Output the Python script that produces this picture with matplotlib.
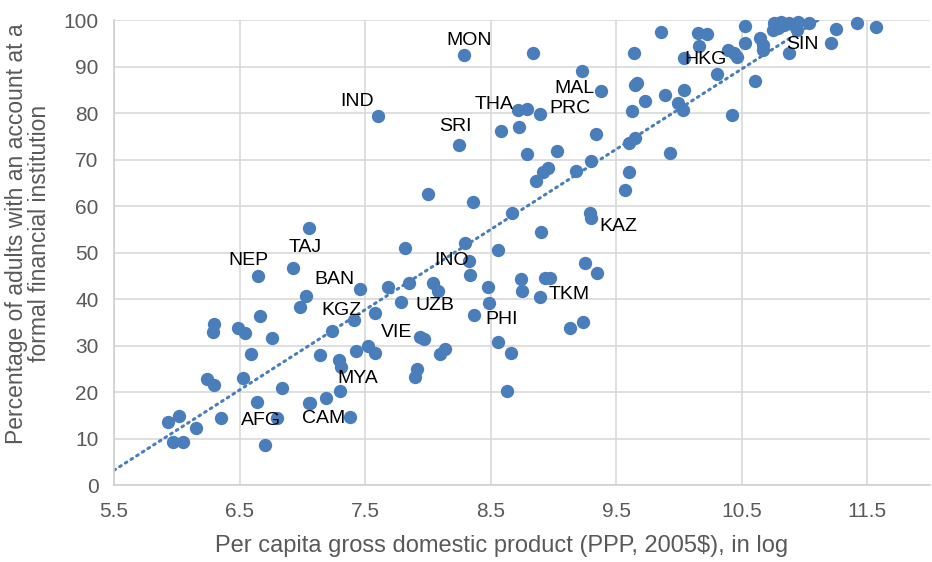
import numpy as np
import matplotlib.pyplot as plt

plt.rcParams['font.family'] = ['Liberation Sans', 'DejaVu Sans']

# per capita GDP (log) and share of adults with an account (%)
gdp_log = [
    5.93, 5.97, 6.02, 6.05, 6.15, 6.24, 6.30, 6.29, 6.30, 6.35,
    6.49, 6.53, 6.54, 6.59, 6.64, 6.65, 6.66, 6.70, 6.76, 6.80,
    6.84, 6.93, 6.98, 7.03, 7.05, 7.06, 7.05, 7.14, 7.24, 7.29,
    7.31, 7.19, 7.30, 7.38, 7.41, 7.43, 7.46, 7.52, 7.58, 7.58,
    7.60, 7.68, 7.79, 7.82, 7.85, 7.90, 7.91, 7.94, 7.97, 8.00,
    8.04, 8.08, 8.10, 8.14, 8.25, 8.29, 8.30, 8.33, 8.34, 8.36,
    8.37, 8.48, 8.49, 8.56, 8.56, 8.58, 8.63, 8.66, 8.67, 8.72,
    8.73, 8.74, 8.75, 8.79, 8.79, 8.84, 8.86, 8.89, 8.89, 8.90,
    8.92, 8.93, 8.96, 8.97, 9.03, 9.13, 9.18, 9.23, 9.24, 9.25,
    9.29, 9.30, 9.30, 9.34, 9.35, 9.38, 9.57, 9.60, 9.60, 9.63,
    9.64, 9.65, 9.65, 9.67, 9.73, 9.86, 9.89, 9.93, 9.99, 10.03,
    10.04, 10.04, 10.15, 10.16, 10.22, 10.30, 10.39, 10.42, 10.44, 10.46,
    10.53, 10.53, 10.61, 10.65, 10.67, 10.67, 10.75, 10.76, 10.79, 10.81,
    10.84, 10.88, 10.88, 10.92, 10.94, 10.95, 11.04, 11.21, 11.25, 11.42,
    11.57,
]
account_pct = [
    13.5, 9.3, 14.8, 9.3, 12.2, 22.8, 21.4, 32.8, 34.6, 14.4,
    33.7, 23.1, 32.6, 28.1, 17.9, 45.0, 36.4, 8.6, 31.7, 14.5,
    20.8, 46.6, 38.2, 40.7, 17.6, 17.7, 55.3, 28.0, 33.1, 26.9,
    25.4, 18.8, 20.2, 14.6, 35.5, 28.8, 42.1, 30.0, 28.3, 36.9,
    79.4, 42.6, 39.3, 50.9, 43.5, 23.2, 24.9, 31.9, 31.5, 62.5,
    43.4, 41.8, 28.2, 29.2, 73.2, 92.5, 52.0, 48.2, 45.1, 60.9,
    36.6, 42.5, 39.1, 50.5, 30.8, 76.1, 20.2, 28.4, 58.4, 80.6,
    76.9, 44.4, 41.8, 80.9, 71.1, 93.0, 65.4, 79.8, 40.4, 54.5,
    67.4, 44.6, 68.2, 44.6, 71.9, 33.8, 67.5, 89.0, 35.1, 47.7,
    58.4, 57.5, 69.7, 75.4, 45.5, 84.8, 63.5, 73.5, 67.4, 80.5,
    92.8, 86.0, 74.6, 86.4, 82.6, 97.5, 83.9, 71.5, 82.2, 80.6,
    91.9, 84.9, 97.1, 94.5, 96.9, 88.3, 93.5, 79.6, 92.8, 92.1,
    98.7, 95.0, 86.9, 96.1, 94.6, 93.5, 97.8, 99.3, 98.2, 99.5,
    98.9, 99.3, 92.8, 98.9, 97.8, 99.5, 99.3, 95.0, 98.0, 99.3,
    98.4,
]

# economy labels and where they sit
label_names = ['MON', 'IND', 'SRI', 'THA', 'PRC', 'MAL', 'HKG', 'SIN', 'KAZ', 'TKM',
               'INO', 'UZB', 'PHI', 'VIE', 'MYA', 'CAM', 'AFG', 'KGZ', 'BAN', 'NEP', 'TAJ']
label_x = [8.33, 7.44, 8.22, 8.53, 9.13, 9.17, 10.21, 10.98, 9.52, 9.13,
           8.19, 8.06, 8.59, 7.75, 7.44, 7.17, 6.67, 7.31, 7.26, 6.57, 7.02]
label_y = [95.7, 82.4, 77.2, 81.9, 80.9, 85.3, 91.4, 94.8, 55.5, 40.9,
           48.2, 38.5, 35.5, 32.7, 23.0, 14.4, 13.8, 37.6, 44.3, 48.2, 51.0]

blue = '#4a7ebb'
grey = '#595959'

fig = plt.figure(figsize=(9.32, 5.62), dpi=100)
ax = fig.add_axes([0.1223, 0.137, 0.8755, 0.8274])

ax.scatter(gdp_log, account_pct, s=92, color=blue, zorder=3, clip_on=False, linewidths=0)

# linear trend, clipped to the axes like Excel does
k, b = np.polyfit(gdp_log, account_pct, 1)
tx = np.linspace(5.5, 12, 200)
ax.plot(tx, k * tx + b, color=blue, lw=2.2, linestyle=(0, (0.6, 1.6)),
        dash_capstyle='round', zorder=2)

for name, lx, ly in zip(label_names, label_x, label_y):
    ax.text(lx, ly, name, fontsize=14, ha='center', va='center', color='black', zorder=4)

ax.set_xlim(5.5, 12)
ax.set_ylim(0, 100)
ax.set_xticks(np.arange(5.5, 12, 1.0))
ax.set_yticks(np.arange(0, 101, 10))
ax.set_xticklabels(['5.5', '6.5', '7.5', '8.5', '9.5', '10.5', '11.5'])
ax.grid(True, color='#d9d9d9', lw=1.2, zorder=0)
ax.set_axisbelow(True)
for s in ['top', 'right']:
    ax.spines[s].set_visible(False)
for s in ['left', 'bottom']:
    ax.spines[s].set_color('#d0d0d0')
    ax.spines[s].set_linewidth(1.2)
ax.tick_params(length=0, labelsize=15, colors=grey)
ax.tick_params(axis='x', pad=12)
ax.tick_params(axis='y', pad=11)

ax.set_xlabel('Per capita gross domestic product (PPP, 2005$), in log',
              fontsize=17, color=grey)
ax.set_ylabel('Percentage of adults with an account at a\nformal financial institution',
              fontsize=16.5, color=grey, linespacing=1.0)
ax.xaxis.set_label_coords(0.475, -0.108)
ax.yaxis.set_label_coords(-0.077, 0.54)

fig.savefig('out.png', dpi=100)
